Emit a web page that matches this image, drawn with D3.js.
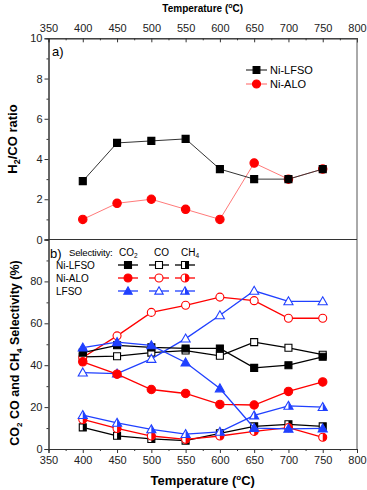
<!DOCTYPE html>
<html>
<head>
<meta charset="utf-8">
<script src="https://cdn.jsdelivr.net/npm/d3@7"></script>
<style>
  body { margin: 0; background: #fff; }
  svg text { font-family: "Liberation Sans", Arial, sans-serif; }
</style>
</head>
<body>
<div id="chart"></div>
<script>
// data
var temps = [400, 450, 500, 550, 600, 650, 700, 750];

// a) H2/CO ratio
var ratioNiLFSO = [2.9, 4.8, 4.9, 5.0, 3.5, 3.0, 3.0, 3.5];
var ratioNiALO  = [1.0, 1.8, 2.0, 1.5, 1.0, 3.8, 3.0, 3.5];

// b) selectivity (%)
var niLfsoCO2 = [46, 49.5, 48.5, 48, 48, 38.7, 40, 44];
var niLfsoCO  = [44, 44.3, 46, 47, 44.5, 51, 48.3, 45];
var niLfsoCH4 = [10.3, 6.3, 4.8, 4, 7.5, 10.8, 11.8, 10.8];
var niAloCO2  = [41.6, 35.7, 28.4, 26.5, 21.3, 21, 27.5, 32];
var niAloCO   = [43.7, 54, 65.2, 68.6, 72.5, 70.8, 62.4, 62.4];
var niAloCH4  = [14.1, 9.8, 6.2, 4.6, 6.2, 8.4, 10.2, 5.6];
var lfsoCO2   = [48.4, 51, 49.5, 41.3, 28.9, 10, 9.6, 9.8];
var lfsoCO    = [36.5, 36, 43, 52.7, 63.8, 75.5, 70.5, 70.5];
var lfsoCH4   = [16.2, 12.5, 9.4, 7.1, 8.2, 16, 20.6, 20];

var xTicks = [350, 400, 450, 500, 550, 600, 650, 700, 750, 800];
var xMinor = [375, 425, 475, 525, 575, 625, 675, 725, 775];
var yaTicks = [0, 2, 4, 6, 8, 10];
var yaMinor = [1, 3, 5, 7, 9];
var ybTicks = [0, 20, 40, 60, 80];
var ybMinor = [10, 30, 50, 70, 90];

var black = "#000", red = "#ff0000", blue = "#2040ff";

var svg = d3.select("#chart").append("svg")
  .attr("width", 367)
  .attr("height", 490);

// scales
var x = d3.scaleLinear().domain([350, 800]).range([48.5, 357]);
var ya = d3.scaleLinear().domain([0, 10]).range([239.5, 38.3]);
var yb = d3.scaleLinear().domain([0, 100]).range([449, 239.5]);

function styleAxis(g) {
  g.select(".domain").attr("stroke", "#333").attr("stroke-width", 1);
  g.selectAll(".tick line").attr("stroke", "#333");
  g.selectAll(".tick text").attr("font-size", 11).attr("fill", "#222")
    .attr("font-family", "Liberation Sans, Arial, sans-serif");
}

// top axis (panel a), ticks inward
svg.append("g").attr("transform", "translate(0," + ya(10) + ")")
  .call(d3.axisTop(x).tickValues(xTicks).tickSize(-4).tickPadding(6).tickFormat(d3.format("d")))
  .call(styleAxis);
svg.append("g").attr("transform", "translate(0," + ya(10) + ")")
  .call(d3.axisTop(x).tickValues(xMinor).tickSize(-2).tickFormat(""))
  .call(styleAxis);

// bottom axis (panel b), ticks outward
svg.append("g").attr("transform", "translate(0," + yb(0) + ")")
  .call(d3.axisBottom(x).tickValues(xTicks).tickSize(4).tickPadding(3).tickFormat(d3.format("d")))
  .call(styleAxis);
svg.append("g").attr("transform", "translate(0," + yb(0) + ")")
  .call(d3.axisBottom(x).tickValues(xMinor).tickSize(2).tickFormat(""))
  .call(styleAxis);

// left axes
svg.append("g").attr("transform", "translate(" + x(350) + ",0)")
  .call(d3.axisLeft(ya).tickValues(yaTicks).tickSize(4).tickPadding(2))
  .call(styleAxis);
svg.append("g").attr("transform", "translate(" + x(350) + ",0)")
  .call(d3.axisLeft(ya).tickValues(yaMinor).tickSize(2).tickFormat(""))
  .call(styleAxis);
svg.append("g").attr("transform", "translate(" + x(350) + ",0)")
  .call(d3.axisLeft(yb).tickValues(ybTicks).tickSize(4).tickPadding(2))
  .call(styleAxis);
svg.append("g").attr("transform", "translate(" + x(350) + ",0)")
  .call(d3.axisLeft(yb).tickValues(ybMinor).tickSize(2).tickFormat(""))
  .call(styleAxis);

// right borders and panel divider
svg.append("line").attr("x1", x(800)).attr("x2", x(800)).attr("y1", ya(10)).attr("y2", yb(0))
  .attr("stroke", "#555").attr("stroke-width", 1);
svg.append("line").attr("x1", x(350)).attr("x2", x(800)).attr("y1", ya(0)).attr("y2", ya(0))
  .attr("stroke", "#333").attr("stroke-width", 1.2);

// titles
var topT = svg.append("text").attr("x", x(575)).attr("y", 12).attr("text-anchor", "middle")
  .attr("font-size", 10).attr("font-weight", "bold");
topT.append("tspan").text("Temperature (");
topT.append("tspan").attr("font-size", 7).attr("dy", -4).text("o");
topT.append("tspan").attr("dy", 4).text("C)");

var botT = svg.append("text").attr("x", x(575)).attr("y", 485).attr("text-anchor", "middle")
  .attr("font-size", 13).attr("font-weight", "bold");
botT.append("tspan").text("Temperature (");
botT.append("tspan").attr("font-size", 8).attr("dy", -5).text("o");
botT.append("tspan").attr("dy", 5).text("C)");

var yaT = svg.append("text").attr("transform", "translate(17," + 139 + ") rotate(-90)")
  .attr("text-anchor", "middle").attr("font-size", 13).attr("font-weight", "bold");
yaT.append("tspan").text("H");
yaT.append("tspan").attr("font-size", 9).attr("dy", 3).text("2");
yaT.append("tspan").attr("dy", -3).text("/CO ratio");

var ybT = svg.append("text").attr("transform", "translate(19," + 353 + ") rotate(-90)")
  .attr("text-anchor", "middle").attr("font-size", 12.5).attr("font-weight", "bold");
ybT.append("tspan").text("CO");
ybT.append("tspan").attr("font-size", 8).attr("dy", 3).text("2");
ybT.append("tspan").attr("dy", -3).text(" CO and CH");
ybT.append("tspan").attr("font-size", 8).attr("dy", 3).text("4");
ybT.append("tspan").attr("dy", -3).text(" Selectivity (%)");

// panel labels
svg.append("text").attr("x", 52).attr("y", 56).attr("font-size", 13).text("a)");
svg.append("text").attr("x", 50).attr("y", 258).attr("font-size", 13).text("b)");

// marker drawing
function marker(g, shape, fill, color, cx, cy, s) {
  var grp = g.append("g").attr("transform", "translate(" + cx + "," + cy + ")");
  var full, right;
  if (shape === "square") {
    full = "M" + (-s) + "," + (-s) + "H" + s + "V" + s + "H" + (-s) + "Z";
    right = "M0," + (-s) + "H" + s + "V" + s + "H0Z";
  } else if (shape === "circle") {
    full = "M" + (-s) + ",0A" + s + "," + s + " 0 1,1 " + s + ",0A" + s + "," + s + " 0 1,1 " + (-s) + ",0Z";
    right = "M0," + (-s) + "A" + s + "," + s + " 0 0,1 0," + s + "Z";
  } else {
    var t = s * 1.2;
    full = "M0," + (-t) + "L" + t + "," + (t * 0.75) + "L" + (-t) + "," + (t * 0.75) + "Z";
    right = "M0," + (-t) + "L" + t + "," + (t * 0.75) + "L0," + (t * 0.75) + "Z";
  }
  grp.append("path").attr("d", full).attr("fill", fill === "full" ? color : "#fff");
  if (fill === "half") grp.append("path").attr("d", right).attr("fill", color);
  grp.append("path").attr("d", full).attr("fill", "none").attr("stroke", color).attr("stroke-width", 1.1);
}

function drawSeries(values, yScale, color, lineColor, lw, shape, fill, size) {
  var g = svg.append("g");
  var line = d3.line().x(function(d, i) { return x(temps[i]); }).y(function(d) { return yScale(d); });
  g.append("path").datum(values).attr("d", line).attr("fill", "none")
    .attr("stroke", lineColor).attr("stroke-width", lw);
  values.forEach(function(v, i) {
    marker(g, shape, fill, color, x(temps[i]), yScale(v), size);
  });
}

// panel a
drawSeries(ratioNiALO, ya, red, "#ff7a7a", 1, "circle", "full", 4.2);
drawSeries(ratioNiLFSO, ya, black, "#333", 1, "square", "full", 3.5);

// panel b
drawSeries(niLfsoCH4, yb, black, black, 1.3, "square", "half", 3.5);
drawSeries(niAloCH4, yb, red, red, 1.3, "circle", "half", 4);
drawSeries(lfsoCH4, yb, blue, blue, 1.3, "triangle", "half", 3.8);
drawSeries(niLfsoCO, yb, black, black, 1.3, "square", "open", 3.5);
drawSeries(niAloCO, yb, red, red, 1.3, "circle", "open", 4);
drawSeries(lfsoCO, yb, blue, blue, 1.3, "triangle", "open", 3.8);
drawSeries(niLfsoCO2, yb, black, black, 1.3, "square", "full", 3.5);
drawSeries(niAloCO2, yb, red, red, 1.3, "circle", "full", 4.2);
drawSeries(lfsoCO2, yb, blue, blue, 1.3, "triangle", "full", 3.8);

// legend a
var legA = [
  { name: "Ni-LFSO", color: black, line: "#333", shape: "square", y: 70 },
  { name: "Ni-ALO", color: red, line: "#ff7a7a", shape: "circle", y: 84 }
];
legA.forEach(function(d) {
  svg.append("line").attr("x1", 246).attr("x2", 267).attr("y1", d.y).attr("y2", d.y)
    .attr("stroke", d.line).attr("stroke-width", 1.2);
  marker(svg, d.shape, "full", d.color, 256.5, d.y, d.shape === "circle" ? 4 : 3.4);
  svg.append("text").attr("x", 270).attr("y", d.y + 4).attr("font-size", 11).text(d.name);
});

// legend b
svg.append("text").attr("x", 69).attr("y", 256).attr("font-size", 9.6)
  .attr("letter-spacing", -0.2).text("Selectivity:");
var colX = [128, 159, 185];
var headX = [119, 154, 181];
var colHead = [["CO", "2"], ["CO", ""], ["CH", "4"]];
colHead.forEach(function(h, i) {
  var t = svg.append("text").attr("x", headX[i]).attr("y", 256).attr("font-size", 10);
  t.append("tspan").text(h[0]);
  if (h[1]) t.append("tspan").attr("font-size", 6.5).attr("dy", 2).text(h[1]);
});
var legRows = [
  { name: "Ni-LFSO", color: black, shape: "square", y: 265 },
  { name: "Ni-ALO", color: red, shape: "circle", y: 278 },
  { name: "LFSO", color: blue, shape: "triangle", y: 291 }
];
var fills = ["full", "open", "half"];
legRows.forEach(function(r) {
  svg.append("text").attr("x", 56).attr("y", r.y + 4).attr("font-size", 10).text(r.name);
  colX.forEach(function(cx, i) {
    svg.append("line").attr("x1", cx - 10).attr("x2", cx + 10).attr("y1", r.y).attr("y2", r.y)
      .attr("stroke", r.color).attr("stroke-width", 1.3);
    marker(svg, r.shape, fills[i], r.color, cx, r.y, r.shape === "circle" ? 4 : 3.5);
  });
});
</script>
</body>
</html>
